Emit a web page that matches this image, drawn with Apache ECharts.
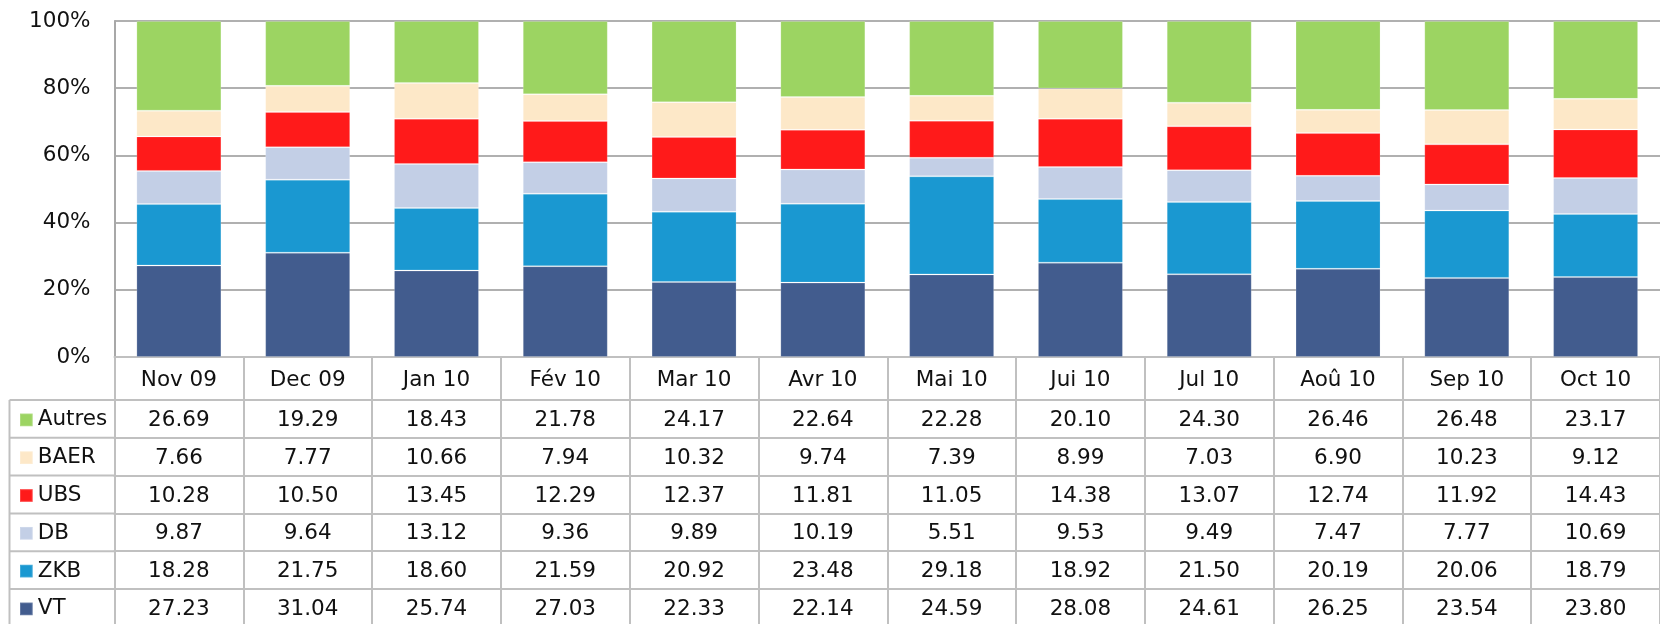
<!DOCTYPE html>
<html>
<head>
<meta charset="utf-8">
<style>
  html, body { margin: 0; padding: 0; background: #fff; }
  #chart { width: 1660px; height: 624px; }
</style>
<script src="https://cdn.jsdelivr.net/npm/echarts@6/dist/echarts.min.js"></script>
</head>
<body>
<div id="chart"></div>
<script>
// categories and shares (%) per bank, stacked bottom to top
const months = ["Nov 09", "Dec 09", "Jan 10", "Fév 10", "Mar 10", "Avr 10", "Mai 10", "Jui 10", "Jul 10", "Aoû 10", "Sep 10", "Oct 10"];
const vt     = [27.23, 31.04, 25.74, 27.03, 22.33, 22.14, 24.59, 28.08, 24.61, 26.25, 23.54, 23.80];
const zkb    = [18.28, 21.75, 18.60, 21.59, 20.92, 23.48, 29.18, 18.92, 21.50, 20.19, 20.06, 18.79];
const db     = [9.87, 9.64, 13.12, 9.36, 9.89, 10.19, 5.51, 9.53, 9.49, 7.47, 7.77, 10.69];
const ubs    = [10.28, 10.50, 13.45, 12.29, 12.37, 11.81, 11.05, 14.38, 13.07, 12.74, 11.92, 14.43];
const baer   = [7.66, 7.77, 10.66, 7.94, 10.32, 9.74, 7.39, 8.99, 7.03, 6.90, 10.23, 9.12];
const autres = [26.69, 19.29, 18.43, 21.78, 24.17, 22.64, 22.28, 20.10, 24.30, 26.46, 26.48, 23.17];
const yTicks = [0, 20, 40, 60, 80, 100];

const seriesList = [
  { name: "VT", data: vt, color: "#425c8e" },
  { name: "ZKB", data: zkb, color: "#1a98d1" },
  { name: "DB", data: db, color: "#c3cfe6" },
  { name: "UBS", data: ubs, color: "#ff1a1a" },
  { name: "BAER", data: baer, color: "#fde8c8" },
  { name: "Autres", data: autres, color: "#9cd462" }
];
// table rows top to bottom
const tableRows = seriesList.slice().reverse();

const FONT = "DejaVu Sans";
const FS = 21.5;
const gridLeft = 114.5, gridTop = 21, gridH = 336, gridW = 1560;
const headerH = 43, rowH = 37.8;
const lineCol = "#c0c0c0";
const gridBottom = gridTop + gridH;

const dom = document.getElementById("chart");
const chart = echarts.init(dom);

// header axis (month names) + one axis per table row
const xAxes = [{
  type: "category",
  data: months,
  gridIndex: 0,
  position: "bottom",
  axisLine: { show: true, lineStyle: { color: lineCol, width: 2 } },
  axisTick: { show: true, alignWithLabel: false, interval: 0, length: headerH, lineStyle: { color: lineCol, width: 2 } },
  axisLabel: { interval: 0, margin: headerH / 2 + 1.5, verticalAlign: "middle", fontFamily: FONT, fontSize: FS, color: "#111" },
  splitLine: { show: false }
}];
tableRows.forEach(function (row, i) {
  xAxes.push({
    type: "category",
    data: months,
    gridIndex: 0,
    position: "bottom",
    offset: headerH + i * rowH,
    axisLine: { show: true, lineStyle: { color: lineCol, width: 2 } },
    axisTick: { show: true, alignWithLabel: false, interval: 0, length: i === tableRows.length - 1 ? rowH + 4 : rowH, lineStyle: { color: lineCol, width: 2 } },
    axisLabel: {
      interval: 0, margin: rowH / 2 + 1.5, verticalAlign: "middle",
      fontFamily: FONT, fontSize: FS, color: "#111",
      formatter: function (v, idx) { return row.data[idx].toFixed(2); }
    },
    splitLine: { show: false }
  });
});

// borders of the legend column
const graphics = [];
const tableTop = gridBottom + headerH;
graphics.push({ type: "line", shape: { x1: 9.5, y1: tableTop, x2: 9.5, y2: 624 }, style: { stroke: lineCol, lineWidth: 2 } });
for (let i = 0; i < tableRows.length; i++) {
  const y = tableTop + i * rowH;
  graphics.push({ type: "line", shape: { x1: 9.5, y1: y, x2: gridLeft, y2: y }, style: { stroke: lineCol, lineWidth: 2 } });
}

const option = {
  animation: false,
  grid: { left: gridLeft, top: gridTop, width: gridW, height: gridH, containLabel: false },
  legend: {
    orient: "vertical",
    left: 19,
    top: tableTop + 1,
    height: 400,
    padding: 0,
    itemGap: 0,
    itemWidth: 12.7,
    itemHeight: 12.7,
    icon: "rect",
    selectedMode: false,
    data: tableRows.map(function (s) { return s.name; }),
    textStyle: { fontFamily: FONT, fontSize: FS, color: "#111", lineHeight: rowH }
  },
  xAxis: xAxes,
  yAxis: {
    type: "value",
    min: yTicks[0],
    max: yTicks[yTicks.length - 1],
    interval: yTicks[1] - yTicks[0],
    axisLine: { show: true, lineStyle: { color: "#a8a8a8", width: 2 } },
    axisTick: { show: false },
    axisLabel: { margin: 24, fontFamily: FONT, fontSize: FS, color: "#111", formatter: "{value}%" },
    splitLine: { show: true, lineStyle: { color: "#b0b0b0", width: 2 } }
  },
  graphic: graphics,
  series: seriesList.map(function (s) {
    return {
      name: s.name,
      type: "bar",
      stack: "total",
      xAxisIndex: 0,
      barWidth: 85,
      data: s.data,
      itemStyle: { color: s.color, borderColor: "rgba(255,255,255,0.18)", borderWidth: 1 }
    };
  })
};
chart.setOption(option);
window.addEventListener("resize", function () { chart.resize(); });
</script>
</body>
</html>
